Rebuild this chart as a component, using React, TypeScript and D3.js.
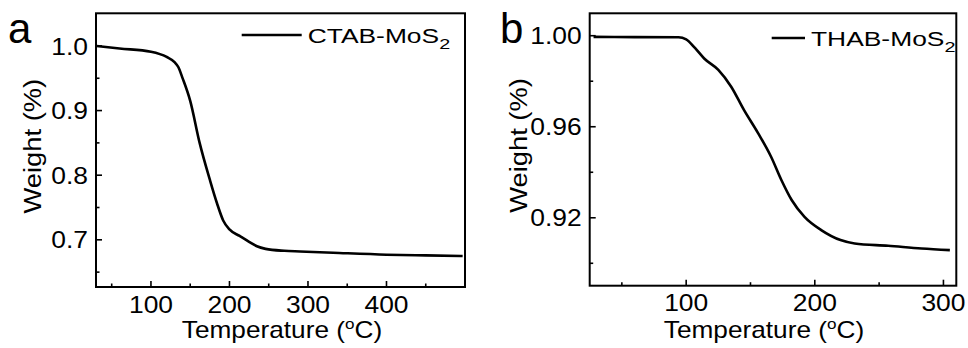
import React from "react";
import * as d3 from "d3";

const tempA = [30, 60, 100, 120, 130, 135, 140, 150, 162, 175, 184, 192, 200, 213, 225, 235, 246, 270, 290, 332, 400, 450, 497];
const weightA = [1.0, 0.996, 0.991, 0.983, 0.975, 0.967, 0.951, 0.915, 0.85, 0.793, 0.757, 0.73, 0.716, 0.706, 0.697, 0.69, 0.686, 0.683, 0.682, 0.68, 0.677, 0.676, 0.675];
const tempB = [28, 60, 94, 100, 107, 114, 125, 135, 145, 156, 166, 174, 182, 192, 205, 220, 231, 257, 283, 305];
const weightB = [0.9995, 0.9994, 0.9993, 0.9984, 0.9945, 0.99, 0.985, 0.9776, 0.9673, 0.9571, 0.9468, 0.9366, 0.9278, 0.9204, 0.9146, 0.9102, 0.9087, 0.9077, 0.9065, 0.9058];

const xTicksA = [100, 200, 300, 400];
const xMinorA = [50, 150, 250, 350, 450];
const yTicksA = [0.7, 0.8, 0.9, 1.0];
const yMinorA = [0.65, 0.75, 0.85, 0.95];
const xTicksB = [100, 200, 300];
const xMinorB = [50, 150, 250];
const yTicksB = [0.92, 0.96, 1.0];
const yMinorB = [0.9, 0.94, 0.98];

const FONT = "'Liberation Sans', Arial, sans-serif";

type PanelProps = {
  left: number; right: number; top: number; bottom: number;
  xDomain: [number, number]; yDomain: [number, number];
  xs: number[]; ys: number[];
  xTicks: number[]; xMinor: number[]; yTicks: number[]; yMinor: number[];
  yFmt: (v: number) => string;
  letter: string; letterX: number;
  legend: string; legLine: [number, number]; legY: number;
  xTitleX: number; yTitleOff: number;
};

function SText({ x, y, sx, anchor, size, children, rotate }: any) {
  const t = rotate
    ? `translate(${x},${y}) rotate(-90) scale(${sx},1)`
    : `translate(${x},${y}) scale(${sx},1)`;
  return (
    <text transform={t} textAnchor={anchor} fontSize={size} fontFamily={FONT} fill="#000">
      {children}
    </text>
  );
}

function Panel(p: PanelProps) {
  const x = d3.scaleLinear().domain(p.xDomain).range([p.left, p.right]);
  const y = d3.scaleLinear().domain(p.yDomain).range([p.bottom, p.top]);
  const data = p.xs.map((t, i) => [t, p.ys[i]] as [number, number]);
  const line = d3.line<[number, number]>().x(d => x(d[0])).y(d => y(d[1])).curve(d3.curveMonotoneX);
  const tickSx = 1.1;
  return (
    <g>
      <path d={line(data) || ""} fill="none" stroke="#000" strokeWidth={2.6} strokeLinejoin="round" />
      <rect x={p.left} y={p.top} width={p.right - p.left} height={p.bottom - p.top} fill="none" stroke="#000" strokeWidth={2} />
      {p.xTicks.map(t => (
        <g key={"xt" + t}>
          <line x1={x(t)} x2={x(t)} y1={p.bottom} y2={p.bottom - 6} stroke="#000" strokeWidth={1.6} />
          <SText x={x(t)} y={p.bottom + 25.5} sx={tickSx} anchor="middle" size={24}>{String(t)}</SText>
        </g>
      ))}
      {p.xMinor.map(t => (
        <line key={"xm" + t} x1={x(t)} x2={x(t)} y1={p.bottom} y2={p.bottom - 3.5} stroke="#000" strokeWidth={1.6} />
      ))}
      {p.yTicks.map(t => (
        <g key={"yt" + t}>
          <line x1={p.left} x2={p.left + 6} y1={y(t)} y2={y(t)} stroke="#000" strokeWidth={1.6} />
          <SText x={p.left - 8} y={y(t) + 8.6} sx={tickSx} anchor="end" size={24}>{p.yFmt(t)}</SText>
        </g>
      ))}
      {p.yMinor.map(t => (
        <line key={"ym" + t} x1={p.left} x2={p.left + 3.5} y1={y(t)} y2={y(t)} stroke="#000" strokeWidth={1.6} />
      ))}
      <SText x={p.xTitleX} y={338} sx={1.14} anchor="middle" size={23}>
        Temperature (<tspan dy={-9} fontSize={15}>o</tspan><tspan dy={9}>C)</tspan>
      </SText>
      <SText x={p.left - p.yTitleOff} y={(p.top + p.bottom) / 2 - 4} sx={1.14} anchor="middle" size={24} rotate>
        Weight (%)
      </SText>
      <text x={p.letterX} y={43} fontSize={42} fontFamily={FONT} fill="#000">{p.letter}</text>
      <line x1={p.legLine[0]} x2={p.legLine[1]} y1={p.legY} y2={p.legY} stroke="#000" strokeWidth={2.6} />
      <SText x={p.legLine[1] + 6} y={p.legY + 7.5} sx={1.32} anchor="start" size={20}>
        {p.legend}<tspan dy={6} fontSize={15}>2</tspan>
      </SText>
    </g>
  );
}

export default function App() {
  return (
    <svg width={968} height={348} style={{ position: "absolute", left: 0, top: 0, background: "#fff" }}>
      <rect width={968} height={348} fill="#fff" />
      <Panel left={96} right={465} top={13.3} bottom={287}
        xDomain={[30, 500]} yDomain={[0.627, 1.0505]}
        xs={tempA} ys={weightA}
        xTicks={xTicksA} xMinor={xMinorA} yTicks={yTicksA} yMinor={yMinorA}
        yFmt={v => v.toFixed(1)} letter="a" letterX={8}
        legend="CTAB-MoS" legLine={[241.7, 301.7]} legY={35}
        xTitleX={282} yTitleOff={55} />
      <Panel left={589.7} right={956.3} top={13.3} bottom={285.7}
        xDomain={[25, 310]} yDomain={[0.89015, 1.00985]}
        xs={tempB} ys={weightB}
        xTicks={xTicksB} xMinor={xMinorB} yTicks={yTicksB} yMinor={yMinorB}
        yFmt={v => v.toFixed(2)} letter="b" letterX={500}
        legend="THAB-MoS" legLine={[771.7, 805]} legY={38}
        xTitleX={764} yTitleOff={63} />
    </svg>
  );
}
